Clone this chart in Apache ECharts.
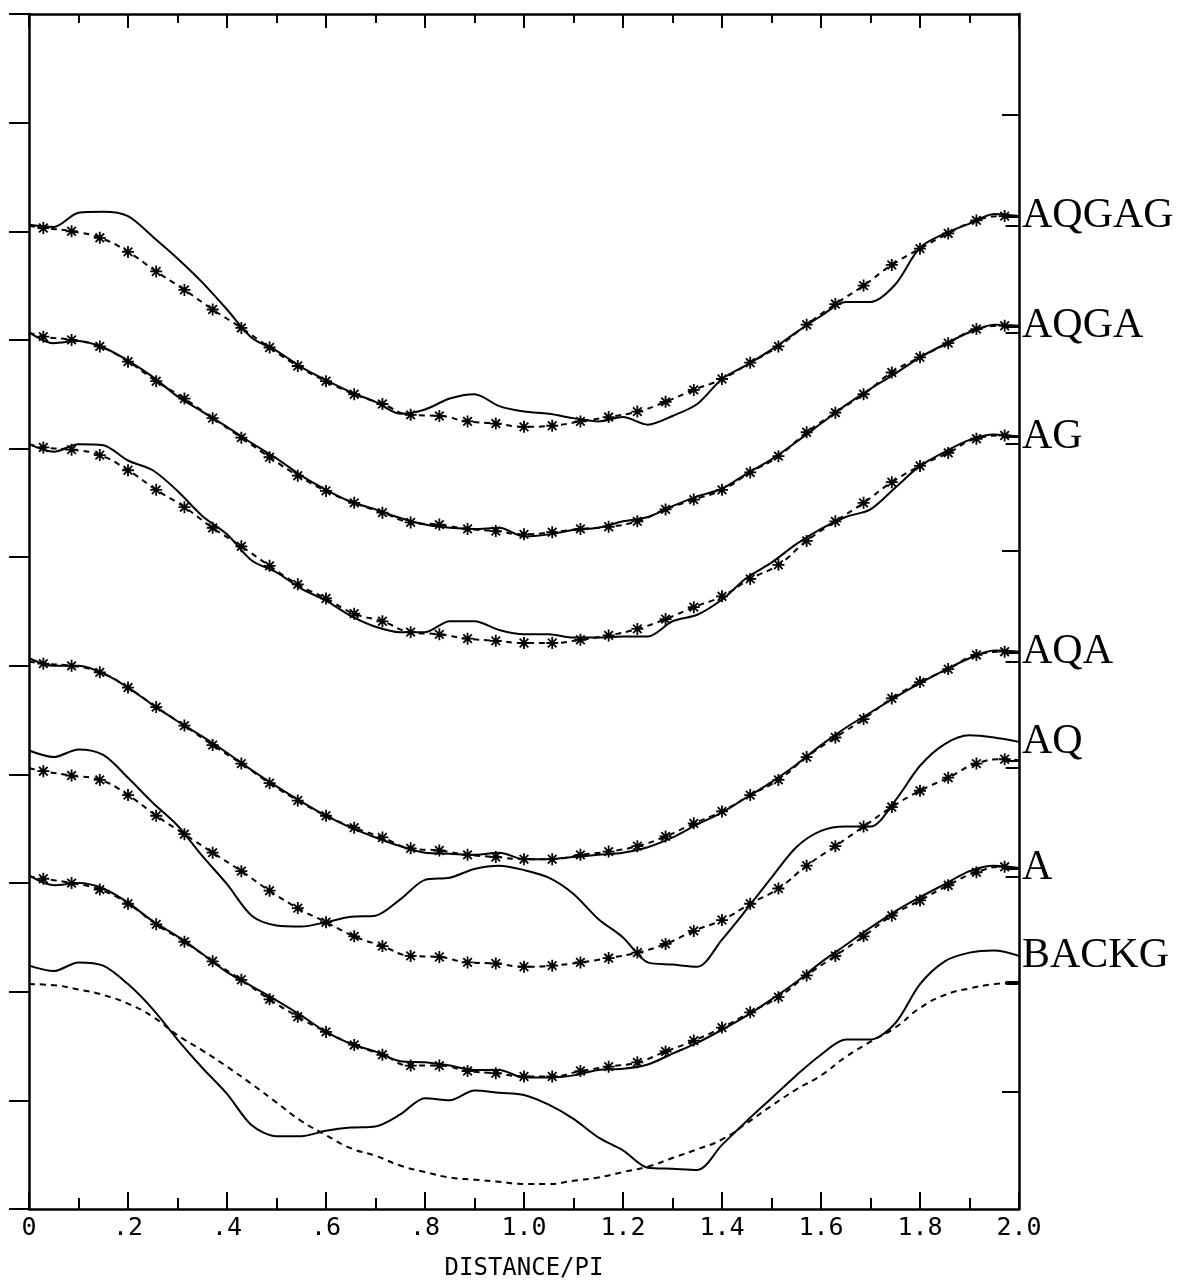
<!DOCTYPE html>
<html>
<head>
<meta charset="utf-8">
<script src="https://cdn.jsdelivr.net/npm/echarts@6/dist/echarts.min.js"></script>
<style>
  html, body { margin: 0; background: #fff; }
  #chart { width: 1188px; height: 1286px; }
</style>
</head>
<body>
<div id="chart"></div>
<script>
// distance / pi, sampling grid of the measured profiles
const xGrid = [0, 0.05, 0.1, 0.15, 0.2, 0.25, 0.3, 0.35, 0.4, 0.45, 0.5, 0.55, 0.6, 0.65, 0.7, 0.75, 0.8, 0.85, 0.9, 0.95,
  1.0, 1.05, 1.1, 1.15, 1.2, 1.25, 1.3, 1.35, 1.4, 1.45, 1.5, 1.55, 1.6, 1.65, 1.7, 1.75, 1.8, 1.85, 1.9, 1.95, 2.0];
// bin centres where the fitted curves carry a * marker
const binX = [0.029, 0.086, 0.143, 0.2, 0.257, 0.314, 0.371, 0.429, 0.486, 0.543, 0.6, 0.657, 0.714, 0.771, 0.829, 0.886, 0.943,
  1.0, 1.057, 1.114, 1.171, 1.229, 1.286, 1.343, 1.4, 1.457, 1.514, 1.571, 1.629, 1.686, 1.743, 1.8, 1.857, 1.914, 1.971];

// measured profiles (solid), one value per xGrid point
const aqgagObs = [9.06, 9.04, 9.17, 9.18, 9.14, 8.95, 8.75, 8.53, 8.28, 8.02, 7.90, 7.75, 7.63, 7.52, 7.43, 7.32, 7.36, 7.46, 7.50, 7.39,
  7.34, 7.32, 7.28, 7.25, 7.29, 7.22, 7.30, 7.41, 7.64, 7.77, 7.91, 8.07, 8.22, 8.35, 8.35, 8.51, 8.85, 8.98, 9.07, 9.16, 9.14];
const aqgaObs = [8.07, 7.97, 7.99, 7.93, 7.81, 7.66, 7.48, 7.34, 7.20, 7.05, 6.91, 6.75, 6.62, 6.51, 6.44, 6.36, 6.30, 6.27, 6.26, 6.27,
  6.19, 6.21, 6.25, 6.27, 6.33, 6.37, 6.47, 6.56, 6.63, 6.77, 6.90, 7.06, 7.23, 7.40, 7.55, 7.69, 7.84, 7.96, 8.07, 8.14, 8.13];
const agObs = [7.04, 6.97, 7.04, 7.03, 6.89, 6.80, 6.61, 6.38, 6.21, 5.97, 5.86, 5.71, 5.60, 5.46, 5.36, 5.31, 5.31, 5.41, 5.41, 5.33,
  5.29, 5.29, 5.26, 5.26, 5.27, 5.27, 5.41, 5.47, 5.61, 5.81, 5.95, 6.12, 6.26, 6.37, 6.44, 6.64, 6.84, 6.97, 7.08, 7.13, 7.11];
const aqaObs = [5.07, 5.00, 5.00, 4.93, 4.80, 4.64, 4.49, 4.35, 4.20, 4.04, 3.89, 3.75, 3.62, 3.51, 3.42, 3.34, 3.28, 3.27, 3.26, 3.28,
  3.22, 3.22, 3.24, 3.26, 3.28, 3.33, 3.42, 3.54, 3.65, 3.79, 3.93, 4.09, 4.27, 4.43, 4.57, 4.71, 4.84, 4.96, 5.07, 5.14, 5.13];
const aqObs = [4.22, 4.16, 4.23, 4.18, 3.97, 3.74, 3.53, 3.25, 2.99, 2.70, 2.61, 2.60, 2.64, 2.69, 2.70, 2.85, 3.03, 3.05, 3.13, 3.16,
  3.12, 3.05, 2.90, 2.67, 2.50, 2.27, 2.25, 2.23, 2.48, 2.76, 3.05, 3.33, 3.48, 3.52, 3.52, 3.76, 4.08, 4.28, 4.36, 4.34, 4.30];
const aObs = [3.07, 2.98, 3.00, 2.95, 2.82, 2.65, 2.51, 2.35, 2.18, 2.05, 1.92, 1.78, 1.63, 1.52, 1.45, 1.36, 1.35, 1.32, 1.28, 1.28,
  1.21, 1.21, 1.23, 1.28, 1.29, 1.33, 1.43, 1.53, 1.65, 1.78, 1.93, 2.09, 2.27, 2.43, 2.59, 2.74, 2.87, 2.99, 3.11, 3.16, 3.14];
const backgObs = [2.24, 2.19, 2.27, 2.24, 2.07, 1.84, 1.56, 1.30, 1.06, 0.77, 0.67, 0.67, 0.72, 0.75, 0.76, 0.87, 1.02, 1.00, 1.09, 1.07,
  1.05, 0.96, 0.83, 0.66, 0.54, 0.38, 0.37, 0.36, 0.59, 0.81, 1.02, 1.23, 1.42, 1.56, 1.56, 1.71, 2.07, 2.28, 2.36, 2.38, 2.33];

// fitted curves (dashed): value at 0, one value per binX, value at 2
const aqgagFit = [9.05, 9.03, 9.00, 8.94, 8.81, 8.63, 8.46, 8.28, 8.11, 7.93, 7.76, 7.62, 7.50, 7.41, 7.31, 7.30, 7.25, 7.23, 7.20,
  7.21, 7.25, 7.29, 7.34, 7.43, 7.54, 7.64, 7.79, 7.94, 8.14, 8.33, 8.50, 8.69, 8.84, 8.98, 9.10, 9.14, 9.13];
const aqgaFit = [8.07, 8.03, 8.00, 7.94, 7.80, 7.62, 7.46, 7.28, 7.10, 6.92, 6.75, 6.61, 6.50, 6.41, 6.32, 6.30, 6.26, 6.24, 6.21,
  6.23, 6.26, 6.28, 6.33, 6.44, 6.53, 6.62, 6.78, 6.93, 7.15, 7.33, 7.50, 7.70, 7.84, 7.97, 8.10, 8.13, 8.12];
const agFit = [7.04, 7.01, 6.99, 6.94, 6.80, 6.62, 6.46, 6.27, 6.10, 5.92, 5.75, 5.62, 5.48, 5.41, 5.31, 5.29, 5.25, 5.23, 5.21,
  5.21, 5.24, 5.28, 5.34, 5.43, 5.54, 5.64, 5.80, 5.93, 6.15, 6.33, 6.50, 6.69, 6.84, 6.96, 7.09, 7.12, 7.11];
const aqaFit = [5.04, 5.02, 5.00, 4.94, 4.80, 4.62, 4.45, 4.27, 4.10, 3.92, 3.76, 3.62, 3.51, 3.42, 3.32, 3.30, 3.26, 3.24, 3.22,
  3.22, 3.26, 3.29, 3.34, 3.43, 3.55, 3.66, 3.81, 3.95, 4.16, 4.34, 4.51, 4.70, 4.85, 4.97, 5.10, 5.13, 5.12];
const aqFit = [4.06, 4.03, 3.99, 3.95, 3.81, 3.62, 3.45, 3.28, 3.11, 2.93, 2.77, 2.64, 2.51, 2.42, 2.33, 2.32, 2.27, 2.26, 2.23,
  2.24, 2.27, 2.31, 2.36, 2.44, 2.56, 2.66, 2.81, 2.95, 3.16, 3.34, 3.52, 3.70, 3.85, 3.97, 4.10, 4.14, 4.13];
const aFit = [3.06, 3.04, 3.00, 2.94, 2.81, 2.62, 2.46, 2.28, 2.11, 1.93, 1.77, 1.63, 1.51, 1.42, 1.32, 1.32, 1.27, 1.25, 1.22,
  1.22, 1.27, 1.31, 1.35, 1.45, 1.55, 1.67, 1.81, 1.95, 2.15, 2.33, 2.51, 2.70, 2.84, 2.98, 3.10, 3.15, 3.13];
// background fit has no markers, sampled on xGrid
const backgFit = [2.07, 2.06, 2.02, 1.97, 1.89, 1.77, 1.60, 1.46, 1.31, 1.15, 0.98, 0.81, 0.68, 0.56, 0.49, 0.40, 0.34, 0.29, 0.27, 0.25,
  0.23, 0.23, 0.26, 0.29, 0.34, 0.39, 0.47, 0.55, 0.64, 0.79, 0.95, 1.10, 1.23, 1.40, 1.54, 1.67, 1.85, 1.97, 2.03, 2.07, 2.09];

const sampleNames = ['AQGAG', 'AQGA', 'AG', 'AQA', 'AQ', 'A', 'BACKG'];
const observed = [aqgagObs, aqgaObs, agObs, aqaObs, aqObs, aObs, backgObs];
const fitted = [aqgagFit, aqgaFit, agFit, aqaFit, aqFit, aFit, backgFit];
// inward ticks on the right frame
const rightTicks = [1.08, 6.06, 10.07];

const STAR = 'path://M0,-6V6M-6,0H6M-4.3,-4.3L4.3,4.3M-4.3,4.3L4.3,-4.3';
const MONO = 'DejaVu Sans Mono';

let series = [];
let marks = [];
sampleNames.forEach((name, idx) => {
  series.push({
    name: name,
    type: 'line',
    smooth: 0.3,
    showSymbol: false,
    data: xGrid.map((x, i) => [x, observed[idx][i]]),
    lineStyle: { color: '#000', width: 2 },
    endLabel: {
      show: true,
      formatter: name,
      distance: 3,
      color: '#000',
      fontFamily: 'Liberation Serif',
      fontSize: 42
    },
    z: 3
  });

  let fit = fitted[idx];
  let fitPts;
  if (fit.length === xGrid.length) {
    fitPts = xGrid.map((x, i) => ({ value: [x, fit[i]], symbol: 'none' }));
  } else {
    fitPts = [{ value: [0, fit[0]], symbol: 'none' }];
    binX.forEach((x, i) => fitPts.push([x, fit[i + 1]]));
    fitPts.push({ value: [2, fit[fit.length - 1]], symbol: 'none' });
  }
  series.push({
    name: name + ' fit',
    type: 'line',
    smooth: true,
    showSymbol: true,
    showAllSymbol: true,
    symbol: STAR,
    symbolSize: 12,
    itemStyle: { color: '#000', borderColor: '#000', borderWidth: 1.8 },
    lineStyle: { color: '#000', width: 2, type: [6, 5] },
    data: fitPts,
    z: 2
  });

  // short reference marks at the frame: fit value at 0 and at 2
  marks.push({ coords: [[1.973, fit[0]], [2, fit[0]]] });
  marks.push({ coords: [[1.973, fit[fit.length - 1]], [2, fit[fit.length - 1]]] });
});

series.push({
  type: 'lines',
  coordinateSystem: 'cartesian2d',
  silent: true,
  lineStyle: { color: '#000', width: 2, opacity: 1 },
  data: marks
});

const axisLine = { show: true, onZero: false, lineStyle: { color: '#000', width: 2.5 } };

let option = {
  animation: false,
  backgroundColor: '#fff',
  grid: { left: 29, right: 169, top: 14, bottom: 76 },
  xAxis: [{
    type: 'value',
    min: 0, max: 2, interval: 0.2,
    position: 'bottom',
    name: 'DISTANCE/PI',
    nameLocation: 'middle',
    nameGap: 48,
    nameTextStyle: { fontFamily: MONO, fontSize: 24, color: '#000' },
    axisLine: axisLine,
    axisTick: { inside: true, length: 17, lineStyle: { color: '#000', width: 2 } },
    minorTick: { show: true, splitNumber: 2, length: 11, lineStyle: { color: '#000', width: 2 } },
    splitLine: { show: false },
    axisLabel: {
      margin: 7,
      fontFamily: MONO,
      fontSize: 25,
      color: '#000',
      showMinLabel: true,
      showMaxLabel: true,
      formatter: v => {
        let r = Math.round(v * 10) / 10;
        if (r === 0) return '0';
        if (r < 1) return '.' + Math.round(r * 10);
        return r.toFixed(1);
      }
    }
  }, {
    type: 'value',
    min: 0, max: 2, interval: 0.2,
    position: 'top',
    axisLine: axisLine,
    axisTick: { inside: true, length: 14, lineStyle: { color: '#000', width: 2 } },
    minorTick: { show: true, splitNumber: 2, length: 9, lineStyle: { color: '#000', width: 2 } },
    splitLine: { show: false },
    axisLabel: { show: false }
  }],
  yAxis: [{
    type: 'value',
    min: 0, max: 11, interval: 1,
    position: 'left',
    axisLine: axisLine,
    axisTick: { inside: false, length: 20, lineStyle: { color: '#000', width: 2 } },
    splitLine: { show: false },
    axisLabel: { show: false }
  }, {
    type: 'value',
    min: 0, max: 11, interval: 1,
    position: 'right',
    axisLine: axisLine,
    axisTick: { inside: true, length: 17, customValues: rightTicks, lineStyle: { color: '#000', width: 2 } },
    splitLine: { show: false },
    axisLabel: { show: false }
  }],
  series: series
};

let chart = echarts.init(document.getElementById('chart'));
chart.setOption(option);
</script>
</body>
</html>
